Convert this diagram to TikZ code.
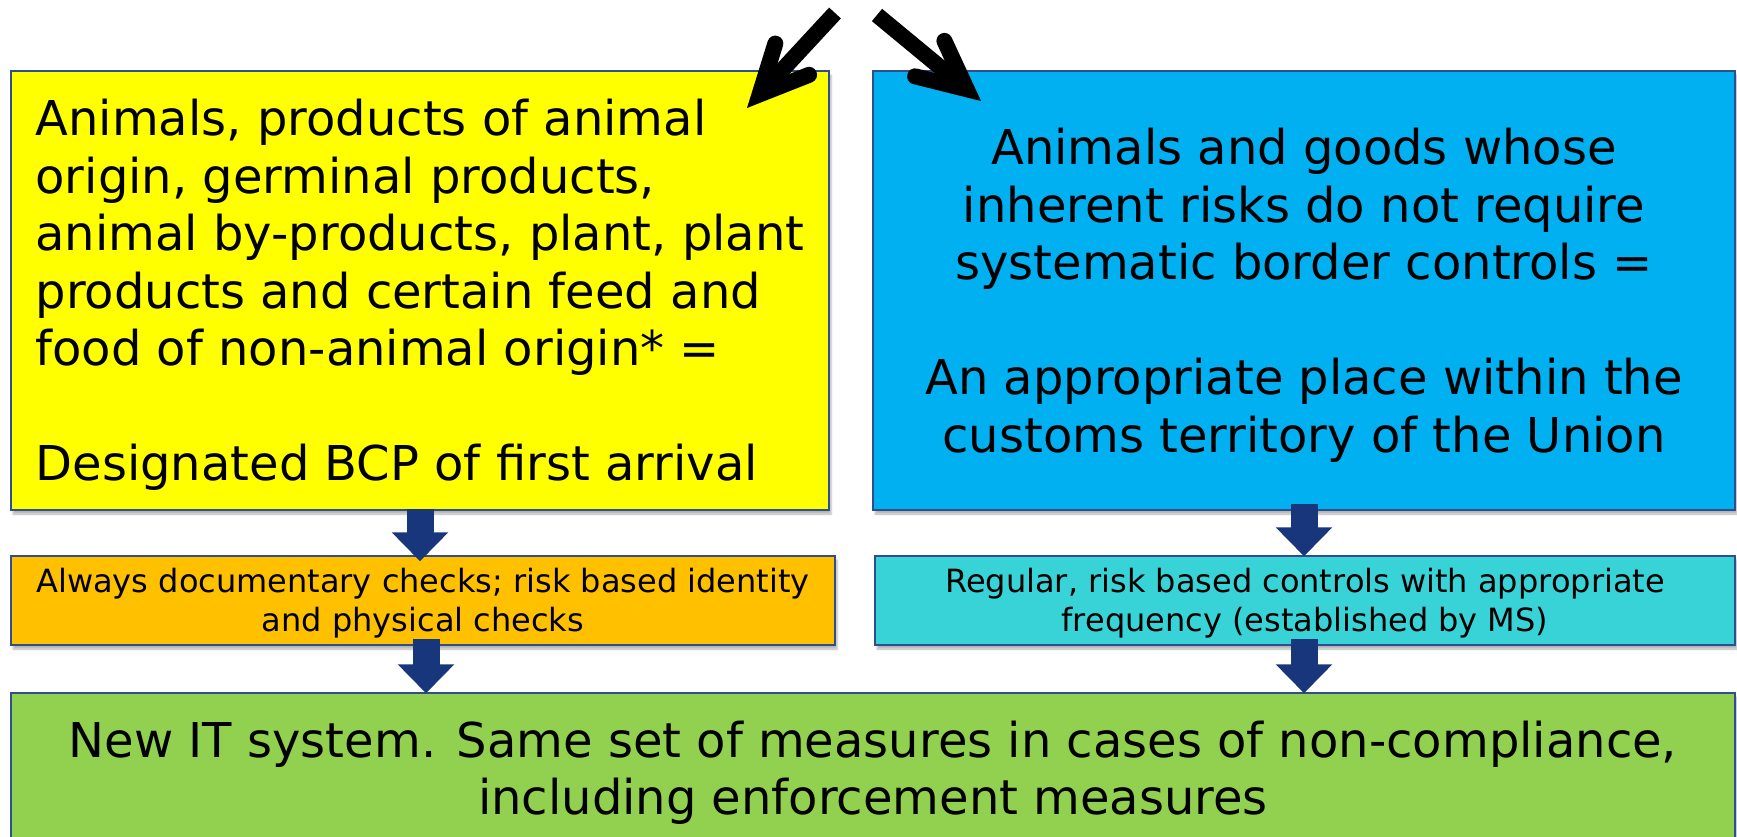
\documentclass[tikz,border=0pt]{standalone}
\usepackage{fontspec}
\setmainfont{DejaVu Sans}
\usepackage{xcolor}
\usepackage{tikz}
\usetikzlibrary{arrows.meta,positioning,calc,shadows.blur}

\definecolor{yel}{HTML}{FFFF00}
\definecolor{blu}{HTML}{00B0F0}
\definecolor{org}{HTML}{FFC000}
\definecolor{cyn}{HTML}{38D3D6}
\definecolor{grn}{HTML}{92D050}
\definecolor{frame}{HTML}{2F4E8E}
\definecolor{navy}{HTML}{17367C}

\begin{document}
\begin{tikzpicture}[
    x=1pt, y=-1pt,
    box/.style = {draw=frame, line width=1.5pt, inner sep=0pt,
      blur shadow={shadow xshift=2pt, shadow yshift=-4pt,
        shadow blur steps=5, shadow opacity=30}},
    bigtext/.style = {font=\fontsize{48}{57.5}\selectfont},
    smalltext/.style = {font=\fontsize{32}{39}\selectfont},
    blockarrow/.style = {navy, line width=27pt,
      -{Triangle[width=55pt, length=29pt]}},
    pointer/.style = {black, line width=16pt,
      -{Straight Barb[length=48pt, width=46pt, line cap=round, line join=miter]}}
  ]
  \useasboundingbox (0,0) rectangle (1737,837);

  % top row
  \node[box, fill=yel, bigtext, align=left, text depth=0.7pt,
    minimum width=818pt, minimum height=439pt] (first) at (420,290.5)
    {Animals, products of animal\\
     origin, germinal products,\\
     animal by-products, plant, plant\\
     products and certain feed and\\
     food of non-animal origin* =\\[57.5pt]
     Designated BCP of first arrival};
  \node[box, fill=blu, bigtext, align=center, text depth=0pt,
    minimum width=862pt, minimum height=439pt] (other) at (1304,290.5)
    {Animals and goods whose\\
     inherent risks do not require\\
     systematic border controls =\\[57.5pt]
     An appropriate place within the\\
     customs territory of the Union};

  % checks
  \node[box, fill=org, smalltext, align=center, text depth=0.5pt,
    minimum width=824pt, minimum height=89pt] (checks) at (423,600.5)
    {Always documentary checks; risk based identity\\
     and physical checks};
  \node[box, fill=cyn, smalltext, align=center, text depth=0.5pt,
    minimum width=860pt, minimum height=89pt] (controls) at (1305,600.5)
    {Regular, risk based controls with appropriate\\
     frequency (established by MS)};

  % bottom
  \node[box, fill=grn, bigtext, align=center,
    minimum width=1724pt, minimum height=159pt] (system) at (873,772.5)
    {New IT system. Same set of measures in cases of non-compliance,\\
     including enforcement measures};

  \draw[blockarrow] ([yshift=2pt]first.south) -- ([yshift=-6pt]first.south |- checks.north);
  \draw[blockarrow] ([yshift=7pt]other.south) -- ([yshift=-1pt]other.south |- controls.north);
  \draw[blockarrow] ([xshift=3pt, yshift=7pt]checks.south) -- ([xshift=3pt, yshift=-1pt]checks.south |- system.north);
  \draw[blockarrow] ([xshift=-1pt, yshift=7pt]controls.south) -- ([xshift=-1pt, yshift=-1pt]controls.south |- system.north);

  % split arrows
  \coordinate (ltail) at (835,13);
  \coordinate (rtail) at (877,15);
  \coordinate (ltip) at (747,108);
  \coordinate (rtip) at (981,101);
  \draw[pointer] (ltail) -- (ltip);
  \draw[pointer] (rtail) -- (rtip);
\end{tikzpicture}
\end{document}
